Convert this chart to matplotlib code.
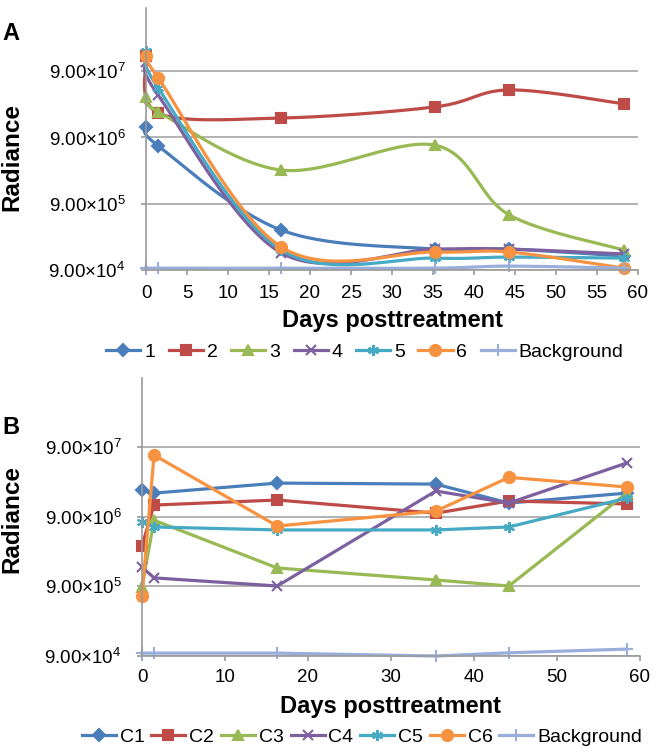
import numpy as np
import matplotlib
matplotlib.use("Agg")
import matplotlib.pyplot as plt

plt.rcParams['font.family'] = ['Liberation Sans', 'DejaVu Sans']
plt.rcParams['mathtext.fontset'] = 'custom'
plt.rcParams['mathtext.rm'] = 'Liberation Sans'
plt.rcParams['mathtext.it'] = 'Liberation Sans:italic'
plt.rcParams['mathtext.bf'] = 'Liberation Sans:bold'

# panel A: treated animals (smoothed lines)
days_a = [0, 1.5, 16.5, 35.2, 44.3, 58.3]
a_series = ['1', '2', '3', '4', '5', '6', 'Background']
a_values = [
    [1.29e7, 6.7e6, 3.6e5, 1.86e5, 1.86e5, 1.46e5],
    [1.52e8, 2.1e7, 1.77e7, 2.6e7, 4.7e7, 2.9e7],
    [3.7e7, 2.2e7, 2.9e6, 6.9e6, 6.1e5, 1.8e5],
    [1.23e8, 3.9e7, 1.63e5, 1.86e5, 1.86e5, 1.57e5],
    [1.8e8, 5.0e7, 1.8e5, 1.36e5, 1.41e5, 1.36e5],
    [1.52e8, 7.1e7, 2.0e5, 1.68e5, 1.68e5, 9.6e4],
    [9.6e4, 9.6e4, 9.6e4, 9.6e4, 1.03e5, 9.6e4],
]

# panel B: controls (straight lines)
days_b = [0, 1.45, 16.3, 35.4, 44.2, 58.4]
b_series = ['C1', 'C2', 'C3', 'C4', 'C5', 'C6', 'Background']
b_values = [
    [2.17e7, 1.96e7, 2.73e7, 2.64e7, 1.41e7, 1.96e7],
    [3.42e6, 1.32e7, 1.56e7, 1.01e7, 1.51e7, 1.37e7],
    [8.8e5, 8.0e6, 1.65e6, 1.11e6, 9.1e5, 1.96e7],
    [1.70e6, 1.19e6, 9.1e5, 2.1e7, 1.41e7, 5.3e7],
    [7.5e6, 6.4e6, 5.8e6, 5.8e6, 6.4e6, 1.66e7],
    [6.5e5, 6.9e7, 6.6e6, 1.08e7, 3.3e7, 2.4e7],
    [9.9e4, 9.9e4, 9.9e4, 9.0e4, 1.0e5, 1.13e5],
]

yticks = [9e4, 9e5, 9e6, 9e7]
ytick_labels = ['9.00×10$^{4}$', '9.00×10$^{5}$', '9.00×10$^{6}$', '9.00×10$^{7}$']

colors = ['#4a7ebb', '#be4b48', '#98b954', '#7d60a0', '#46aac5', '#f69240', '#9aaedb']
markers = ['D', 's', '^', 'x', (6, 2, 0), 'o', '+']
msizes = [6, 7.5, 7.5, 7.5, 8, 8, 9]


def smooth(x, y, n=30):
    # bezier smoothing like the spreadsheet "smoothed line", done in log space
    pts = np.column_stack([x, np.log10(y)])
    out = []
    last = len(pts) - 1
    t = np.linspace(0, 1, n, endpoint=False)[:, None]
    for i in range(last):
        p0 = pts[max(i - 1, 0)]
        p1 = pts[i]
        p2 = pts[i + 1]
        p3 = pts[min(i + 2, last)]
        c1 = p1 + (p2 - p0) / 6
        c2 = p2 - (p3 - p1) / 6
        seg = ((1 - t) ** 3) * p1 + 3 * ((1 - t) ** 2) * t * c1 + 3 * (1 - t) * t ** 2 * c2 + t ** 3 * p2
        out.append(seg)
    out.append(pts[-1:])
    out = np.vstack(out)
    return out[:, 0], 10 ** out[:, 1], [i * n for i in range(len(pts))]


fig = plt.figure(figsize=(6.57, 7.52), dpi=100)
W, H = 657, 752


def style_axes(ax, xticks, top, xpad):
    ax.set_yscale('log')
    ax.set_ylim(9e4, top)
    ax.set_xlim(0, 60)
    ax.set_xticks(xticks)
    ax.set_yticks(yticks)
    ax.set_yticklabels(ytick_labels)
    ax.minorticks_off()
    ax.grid(axis='y', color='#a6a6a6', lw=1.2)
    ax.set_axisbelow(True)
    for s in ['top', 'right']:
        ax.spines[s].set_visible(False)
    for s in ['left', 'bottom']:
        ax.spines[s].set_color('#9a9a9a')
        ax.spines[s].set_linewidth(1.2)
    ax.tick_params(axis='both', colors='#9a9a9a', labelcolor='black',
                   labelsize=13.5, length=3.5, width=1.2)
    ax.tick_params(axis='y', pad=11)
    ax.tick_params(axis='x', pad=xpad)


def legend(handles, cx, cy, spacing):
    fig.legend(handles=handles, loc='center', bbox_to_anchor=(cx / W, 1 - cy / H),
               ncol=7, frameon=False, fontsize=14, handlelength=1.75,
               handletextpad=0.2, columnspacing=spacing, borderpad=0,
               borderaxespad=0)


# ---- panel A
axA = fig.add_axes([146 / W, 1 - 270 / H, 492 / W, 262 / H])
style_axes(axA, range(0, 61, 5), 8.1e8, 7)
handles = []
for name, vals, c, m, ms in zip(a_series, a_values, colors, markers, msizes):
    xs, ys, idx = smooth(days_a, vals)
    h, = axA.plot(xs, ys, color=c, lw=2.3, marker=m, markevery=idx, ms=ms,
                  mew=1.5, label=name, clip_on=False)
    handles.append(h)
legend(handles, 365, 352, 0.7)
fig.text(392 / W, 1 - 321 / H, 'Days posttreatment', ha='center', va='center',
         fontsize=17, fontweight='bold')
fig.text(12 / W, 1 - 157 / H, 'Radiance', rotation=90, ha='center', va='center',
         fontsize=17.5, fontweight='bold')
fig.text(11 / W, 1 - 33 / H, 'A', ha='center', va='center', fontsize=17, fontweight='bold')

# ---- panel B
axB = fig.add_axes([142 / W, 1 - 656 / H, 498 / W, 278 / H])
style_axes(axB, range(0, 61, 10), 8.8e8, 5.5)
handles = []
for name, vals, c, m, ms in zip(b_series, b_values, colors, markers, msizes):
    h, = axB.plot(days_b, vals, color=c, lw=2.3, marker=m, ms=ms, mew=1.5,
                  label=name, clip_on=False)
    handles.append(h)
legend(handles, 362, 737, 0.35)
fig.text(391 / W, 1 - 706 / H, 'Days posttreatment', ha='center', va='center',
         fontsize=17, fontweight='bold')
fig.text(12 / W, 1 - 519 / H, 'Radiance', rotation=90, ha='center', va='center',
         fontsize=17.5, fontweight='bold')
fig.text(11 / W, 1 - 428 / H, 'B', ha='center', va='center', fontsize=17, fontweight='bold')

fig.savefig('out.png', dpi=100)
